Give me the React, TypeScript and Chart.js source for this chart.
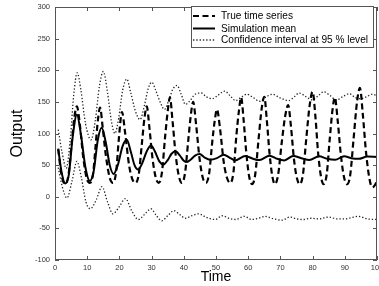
import { useEffect, useRef } from "react";
import { Chart, registerables } from "chart.js";
Chart.register(...registerables);

// True time series (dashed)
const trueTimes = [1, 2, 3.2, 4.2, 5.2, 6.0, 6.8, 7.7, 8.7, 9.8, 10.8, 11.8, 12.6, 13.3, 14.0, 14.8, 15.8, 17.0, 18.0, 19.0, 19.8, 20.8, 21.8, 23.0, 24.0, 25.0, 26.0, 27.0, 27.8, 28.5, 29.3, 30.3, 31.3, 32.2, 33.2, 34.2, 35.0, 35.7, 36.5, 37.5, 38.5, 39.4, 40.4, 41.4, 42.2, 42.9, 43.8, 44.9, 45.9, 46.9, 47.9, 48.9, 49.6, 50.3, 51.2, 52.4, 53.4, 54.4, 55.4, 56.3, 57.1, 57.8, 58.6, 59.4, 60.3, 61.2, 62.2, 63.2, 64.2, 65.0, 65.8, 66.6, 67.5, 68.3, 69.3, 70.4, 71.5, 72.4, 73.3, 74.2, 75.1, 76.0, 77.0, 78.0, 79.1, 80.0, 80.9, 81.7, 82.6, 83.4, 84.4, 85.3, 86.2, 86.9, 87.8, 88.8, 89.8, 90.7, 91.7, 92.7, 93.8, 94.7, 95.6, 96.6, 97.6, 98.5, 99.3, 100];
const trueValues = [75, 35, 20, 35, 85, 125, 143, 115, 65, 30, 22, 35, 80, 120, 141, 110, 65, 30, 22, 40, 90, 134, 100, 50, 28, 22, 35, 85, 125, 143, 110, 60, 30, 22, 38, 95, 135, 157, 120, 65, 32, 22, 38, 90, 130, 150, 115, 60, 30, 22, 38, 90, 120, 138, 110, 55, 30, 22, 38, 95, 135, 157, 120, 70, 32, 20, 36, 90, 140, 158, 120, 70, 32, 20, 35, 85, 128, 145, 110, 60, 30, 20, 35, 90, 145, 166, 125, 70, 32, 20, 36, 90, 138, 157, 120, 65, 30, 20, 35, 90, 150, 172, 130, 70, 30, 15, 18, 25];

// Simulation mean (solid)
const meanTimes = [1, 2, 3.2, 4.3, 5.5, 6.8, 8.0, 9.5, 10.8, 12.0, 13.3, 14.5, 15.8, 17.0, 18.2, 19.5, 21.0, 22.3, 23.5, 24.7, 25.8, 27.0, 28.5, 29.8, 31.0, 32.4, 33.7, 35.0, 36.2, 37.4, 38.8, 40.0, 41.0, 42.0, 43.5, 44.9, 46.5, 48.1, 50.3, 52.4, 54.2, 56.0, 59.1, 61.5, 63.5, 66.6, 69.0, 71.2, 74.0, 76.5, 79.0, 82.0, 84.5, 87.0, 89.8, 92.0, 94.3, 97.0, 100];
const meanValues = [76, 40, 21, 35, 95, 130, 100, 45, 25, 40, 90, 109, 85, 50, 36, 50, 80, 90, 72, 50, 43, 52, 72, 81, 72, 56, 51, 58, 68, 72, 65, 57, 55, 58, 65, 67.5, 62, 58.5, 61, 66.5, 62, 57.5, 64.5, 60, 58, 65, 60, 57.5, 64.5, 61, 58, 64, 60, 58.5, 64, 61, 60, 63.5, 63];

// Confidence interval at 95 % level, upper bound (dotted)
const upperTimes = [1, 2.2, 3.5, 4.8, 5.8, 6.9, 8.0, 9.5, 11.2, 12.5, 13.8, 15.0, 16.3, 17.5, 18.6, 19.8, 21.0, 22.3, 23.5, 25.0, 26.4, 27.8, 29.0, 30.1, 31.3, 32.8, 34.0, 35.3, 36.6, 37.9, 39.2, 40.5, 41.6, 43.5, 45.5, 47.0, 48.9, 50.5, 52.7, 54.5, 56.1, 58.0, 59.6, 61.5, 63.6, 65.3, 67.5, 70.0, 72.6, 74.3, 75.8, 78.0, 79.9, 81.8, 83.5, 85.4, 87.4, 89.3, 91.4, 93.2, 94.9, 96.7, 98.5, 100];
const upperValues = [106, 70, 45, 95, 160, 196, 170, 115, 90, 120, 175, 198, 165, 120, 100, 125, 168, 186, 165, 135, 122, 145, 172, 181, 168, 148, 138, 152, 170, 176, 162, 146, 150, 162, 164, 158, 155, 160, 167, 159, 152, 158, 162, 157, 151, 157, 162, 156, 152, 158, 164, 158, 153, 160, 166, 160, 153, 158, 163, 157, 155, 158, 162, 160];

// Confidence interval at 95 % level, lower bound (dotted)
const lowerTimes = [1, 2.3, 3.7, 5.3, 6.8, 8.2, 9.6, 11.0, 12.8, 14.6, 16.3, 18.0, 19.8, 21.9, 23.8, 25.9, 27.8, 29.8, 31.5, 33.2, 35.0, 36.9, 38.7, 40.5, 42.5, 44.6, 47.2, 49.8, 51.9, 54.0, 56.0, 58.8, 61.0, 63.2, 65.2, 68.0, 70.5, 73.0, 75.0, 77.0, 79.5, 82.0, 85.0, 87.5, 90.0, 92.0, 94.3, 97.0, 100];
const lowerValues = [46, 15, -2, 25, 56, 30, -8, -19, -5, 16, -8, -27, -17, -3, -22, -36, -28, -19, -30, -38, -30, -22, -28, -34, -30, -27, -33, -36, -30, -34, -36, -31, -36, -34, -31, -35, -37, -32, -35, -36, -34, -35, -32, -35, -35, -33, -31, -35, -36];

const legendLabels = ["True time series", "Simulation mean", "Confidence interval at 95 % level"];
const xTitle = "Time";
const yTitle = "Output";

const toPts = (t: number[], v: number[]) => t.map((x, i) => ({ x, y: v[i] }));

const FONT = "'Liberation Sans', Arial, Helvetica, sans-serif";

const framePlugin = {
  id: "frame",
  afterDatasetsDraw(chart: any) {
    const { ctx, chartArea, scales } = chart;
    const { left, right, top, bottom } = chartArea;
    const xs = scales.x;
    const ys = scales.y;
    ctx.save();
    ctx.strokeStyle = "#555";
    ctx.lineWidth = 1;
    ctx.setLineDash([]);
    ctx.strokeRect(Math.round(left) + 0.5, Math.round(top) + 0.5, Math.round(right - left) - 1, Math.round(bottom - top) - 1);
    const tl = 4;
    ctx.beginPath();
    xs.ticks.forEach((t: any) => {
      const px = Math.round(xs.getPixelForValue(t.value)) + 0.5;
      ctx.moveTo(px, bottom);
      ctx.lineTo(px, bottom - tl);
      ctx.moveTo(px, top);
      ctx.lineTo(px, top + tl);
    });
    ys.ticks.forEach((t: any) => {
      const py = Math.round(ys.getPixelForValue(t.value)) + 0.5;
      ctx.moveTo(left, py);
      ctx.lineTo(left + tl, py);
      ctx.moveTo(right, py);
      ctx.lineTo(right - tl, py);
    });
    ctx.stroke();

    // legend box
    const bx = 191, by = 6, bw = 182, bh = 41;
    ctx.fillStyle = "#fff";
    ctx.fillRect(bx, by, bw, bh);
    ctx.strokeStyle = "#555";
    ctx.strokeRect(bx + 0.5, by + 0.5, bw, bh);
    const rows = [16, 28.5, 40];
    ctx.font = `10.1px ${FONT}`;
    ctx.textBaseline = "middle";
    ctx.textAlign = "left";
    for (let i = 0; i < 3; i++) {
      const ds = chart.data.datasets[i];
      ctx.beginPath();
      ctx.strokeStyle = ds.borderColor;
      ctx.lineWidth = ds.borderWidth;
      ctx.setLineDash(ds.borderDash || []);
      ctx.moveTo(193, rows[i]);
      ctx.lineTo(215, rows[i]);
      ctx.stroke();
      ctx.setLineDash([]);
      ctx.fillStyle = "#000";
      ctx.fillText(legendLabels[i], 221, rows[i] + 0.5);
    }
    ctx.restore();
  },
};

export default function App() {
  const ref = useRef<HTMLCanvasElement>(null);
  useEffect(() => {
    document.body.style.margin = "0";
    const canvas = ref.current!;
    const common = { pointRadius: 0, fill: false, cubicInterpolationMode: "monotone" as const };
    const chart = new Chart(canvas, {
      type: "line",
      data: {
        datasets: [
          { label: legendLabels[0], data: toPts(trueTimes, trueValues), borderColor: "#000", borderWidth: 2.2, borderDash: [6, 3.5], ...common },
          { label: legendLabels[1], data: toPts(meanTimes, meanValues), borderColor: "#000", borderWidth: 2, ...common },
          { label: legendLabels[2], data: toPts(upperTimes, upperValues), borderColor: "#222", borderWidth: 1.3, borderDash: [1.3, 2], ...common },
          { label: legendLabels[2] + " (lower)", data: toPts(lowerTimes, lowerValues), borderColor: "#222", borderWidth: 1.3, borderDash: [1.3, 2], ...common },
        ],
      },
      options: {
        responsive: false,
        devicePixelRatio: 1,
        animation: false,
        layout: { padding: { left: 0, top: 7, right: 2, bottom: 0 } },
        plugins: { legend: { display: false }, tooltip: { enabled: false } },
        scales: {
          x: {
            type: "linear",
            min: 0,
            max: 100,
            grid: { display: false, drawTicks: false },
            border: { display: false },
            ticks: { stepSize: 10, padding: 3, color: "#333", font: { family: FONT, size: 7.5 }, maxRotation: 0, autoSkip: false },
            title: { display: true, text: xTitle, color: "#000", font: { family: FONT, size: 14 }, padding: { top: 0, bottom: 0 } },
            afterFit: (s: any) => {
              s.height = 26;
              s.paddingLeft = 0;
              s.paddingRight = 0;
            },
          },
          y: {
            type: "linear",
            min: -100,
            max: 300,
            grid: { display: false, drawTicks: false },
            border: { display: false },
            ticks: { stepSize: 50, padding: 5, color: "#333", font: { family: FONT, size: 7.5 } },
            title: { display: true, text: yTitle, color: "#000", font: { family: FONT, size: 16 }, padding: { top: 8, bottom: 0 } },
            afterFit: (s: any) => {
              s.width = 55;
              s.paddingTop = 0;
              s.paddingBottom = 0;
            },
          },
        },
      },
      plugins: [framePlugin],
    });
    return () => chart.destroy();
  }, []);
  return (
    <div style={{ position: "fixed", left: 0, top: 0, width: 379, height: 286, background: "#fff" }}>
      <canvas ref={ref} width={379} height={286} style={{ display: "block", width: 379, height: 286 }} />
    </div>
  );
}
